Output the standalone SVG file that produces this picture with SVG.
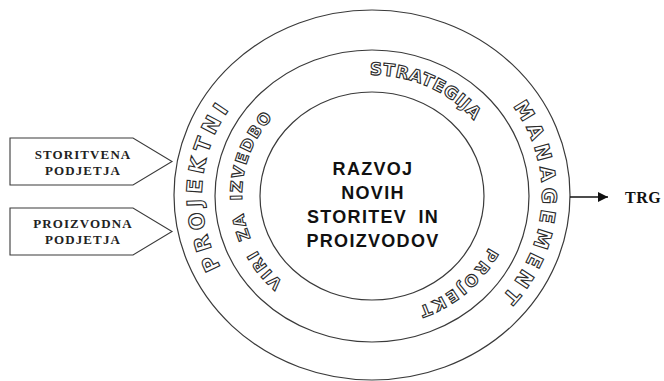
<svg xmlns="http://www.w3.org/2000/svg" width="664" height="381" viewBox="0 0 664 381">
<style>
.ring{fill:none;stroke:#3a3a3a;stroke-width:1.2}
.box{fill:#fff;stroke:#3a3a3a;stroke-width:1.1}
.boxt{font-family:"Liberation Serif",serif;font-weight:bold;font-size:13px;fill:#222;text-anchor:middle;letter-spacing:1.1px}
.ctr{font-family:"Liberation Sans",Arial,sans-serif;font-weight:bold;font-size:18px;fill:#111;text-anchor:middle;letter-spacing:1.3px}
.ol{font-family:"DejaVu Sans","Liberation Sans",sans-serif;font-weight:bold;fill:#fff;stroke:#2a2a2a;stroke-width:1.1;text-anchor:middle}
.trg{font-family:"Liberation Serif",serif;font-weight:bold;font-size:16px;fill:#111}
</style>
<defs>
<marker id="ah" viewBox="0 0 10 10" refX="10" refY="5" markerWidth="11" markerHeight="10" markerUnits="userSpaceOnUse" orient="auto">
<path d="M0,0 L10,5 L0,10 Z" fill="#111"/>
</marker>
<path id="pProjektni" d="M 257.1 311.5 A 170 158 0 0 1 268.5 69.6"/>
<path id="pViri" d="M 315 302.9 A 130 120 0 0 1 299.3 95.5"/>
<path id="pStrat" d="M 299.3 95.5 A 130 120 0 0 1 501.7 186.6"/>
<path id="pMan" d="M 463.3 61.7 A 170 158 0 0 1 450.5 335.1"/>
<path id="pProjekt" d="M 498.1 166 A 130 120 0 0 1 336.2 310.4"/>
</defs>
<g id="rings">
<ellipse id="outer" class="ring" cx="372" cy="195" rx="198" ry="185"/>
<ellipse id="middle" class="ring" cx="372" cy="196" rx="157" ry="146"/>
<ellipse id="inner" class="ring" cx="372" cy="196" rx="112" ry="104"/>
</g>
<g id="ring-labels">
<text class="ol" style="font-size:21px;letter-spacing:4.8px"><textPath href="#pProjektni" startOffset="51%">PROJEKTNI</textPath></text>
<text class="ol" style="font-size:16px;letter-spacing:1.8px;word-spacing:4px"><textPath href="#pViri" startOffset="51%">VIRI ZA IZVEDBO</textPath></text>
<text class="ol" style="font-size:17px;letter-spacing:0.6px"><textPath href="#pStrat" startOffset="50.3%">STRATEGIJA</textPath></text>
<text class="ol" style="font-size:20px;letter-spacing:5px"><textPath href="#pMan" startOffset="51%">MANAGEMENT</textPath></text>
<text class="ol" style="font-size:16px;letter-spacing:2.7px"><textPath href="#pProjekt" startOffset="50.5%">PROJEKT</textPath></text>
</g>
<g id="center-node">
<text class="ctr" x="373" y="175">RAZVOJ</text>
<text class="ctr" x="373" y="199">NOVIH</text>
<text class="ctr" x="373" y="223" word-spacing="5">STORITEV IN</text>
<text class="ctr" x="373" y="247">PROIZVODOV</text>
</g>
<g id="storitvena">
<polygon class="box" points="10,138 133,138 172,161.5 133,185 10,185"/>
<text class="boxt" x="83" y="159">STORITVENA</text>
<text class="boxt" x="83" y="175">PODJETJA</text>
</g>
<g id="proizvodna">
<polygon class="box" points="10,208 133,208 172,231.5 133,255 10,255"/>
<text class="boxt" x="83" y="228">PROIZVODNA</text>
<text class="boxt" x="83" y="244">PODJETJA</text>
</g>
<g id="trg">
<text class="trg" x="625" y="203" letter-spacing="0.5">TRG</text>
</g>
<g id="connectors">
<line x1="570" y1="197" x2="608" y2="197" stroke="#111" stroke-width="1.3" marker-end="url(#ah)"/>
</g>
</svg>
